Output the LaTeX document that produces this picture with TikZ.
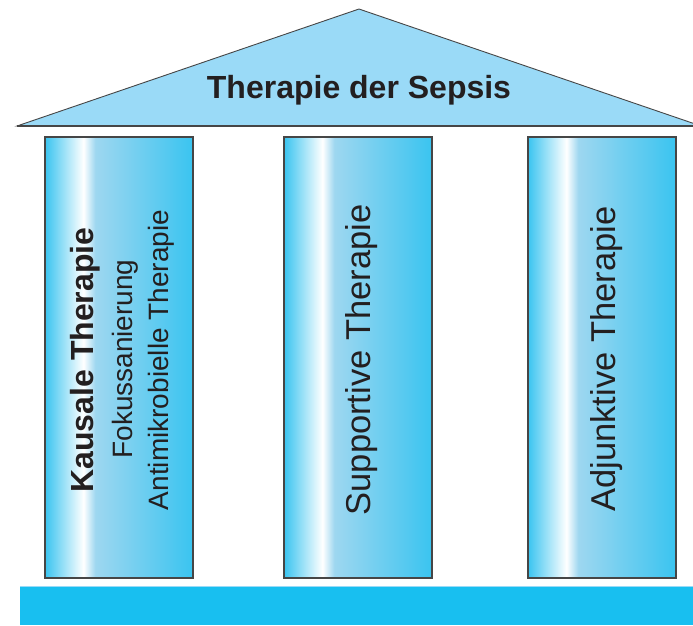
\documentclass[tikz,border=0pt]{standalone}
\usepackage{fontspec}
\setmainfont{Liberation Sans}
\definecolor{cyanA}{RGB}{58,196,240}
\definecolor{lightB}{RGB}{158,215,240}
\definecolor{roofC}{RGB}{154,218,247}
\definecolor{barC}{RGB}{24,191,240}
\definecolor{lineC}{RGB}{70,70,70}
\definecolor{txtC}{RGB}{35,31,32}
\pgfdeclarehorizontalshading{pillarshade}{100bp}{color(0bp)=(cyanA); color(25bp)=(cyanA); color(38bp)=(white); color(42bp)=(lightB); color(75bp)=(cyanA); color(100bp)=(cyanA)}
\tikzset{
  pillar/.style={draw=lineC, line width=1.1pt, shading=pillarshade, inner sep=0pt,
    minimum width=148pt, minimum height=441pt},
  vbold/.style={rotate=90, text=txtC, inner sep=0pt, font=\fontsize{32}{38}\selectfont\bfseries},
  vsmall/.style={rotate=90, text=txtC, inner sep=0pt, font=\fontsize{28}{34}\selectfont},
  vlarge/.style={rotate=90, text=txtC, inner sep=0pt, font=\fontsize{34.5}{40}\selectfont},
  titletext/.style={text=txtC, inner sep=0pt, font=\fontsize{32}{38}\selectfont\bfseries}
}
\begin{document}
\begin{tikzpicture}[x=1pt, y=-1pt]
\useasboundingbox (0,0) rectangle (693,625);
% roof
\coordinate (rl) at (17,126);
\coordinate (ra) at (359,9);
\coordinate (rr) at (701,126);
\filldraw[fill=roofC, draw=lineC, line width=0.9pt, line join=miter] (rl) -- (ra) -- (rr) -- cycle;
\draw[lineC, line width=1.8pt] (rl) -- (rr);
\node[titletext] (title) at (359,90) {Therapie der Sepsis};
% pillars
\node[pillar] (p1) at (119,357.5) {};
\node[pillar] (p2) at (358,357.5) {};
\node[pillar] (p3) at (602,357.5) {};
% pillar texts
\node[vbold] (kt) at (85,360) {Kausale Therapie};
\node[vsmall] (fk) at (125,359) {Fokussanierung};
\node[vsmall] (am) at (161,360) {Antimikrobielle Therapie};
\node[vlarge] (st) at (362,360) {Supportive Therapie};
\node[vlarge] (adj) at (607,359) {Adjunktive Therapie};
% base
\fill[barC] (20,586) rectangle (700,625);
\draw[roofC, line width=0.8pt] (20,586.4) -- (700,586.4);
\end{tikzpicture}
\end{document}
